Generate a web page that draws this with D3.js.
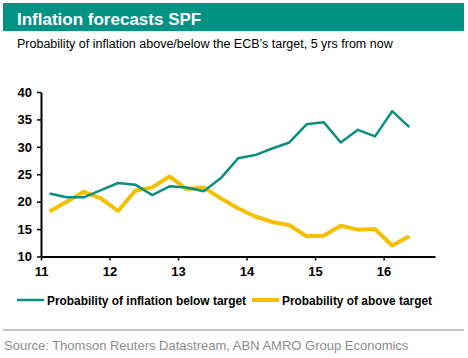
<!DOCTYPE html>
<html>
<head>
<meta charset="utf-8">
<script src="https://cdn.jsdelivr.net/npm/d3@7"></script>
<style>
  body { margin: 0; background: #fff; }
  svg { display: block; font-family: "Liberation Sans", Arial, sans-serif; }
</style>
</head>
<body>
<svg id="chart"></svg>
<script>
// quarterly SPF rounds, 2011Q1 .. 2016Q2
const quarters = d3.range(22).map((i) => 2011 + i / 4 + 0.125);
const belowTarget = [21.5, 20.8, 20.8, 22.1, 23.4, 23.1, 21.2, 22.8, 22.6, 21.9, 24.3, 27.9,
  28.5, 29.7, 30.8, 34.1, 34.5, 30.8, 33.1, 31.9, 36.5, 33.6];
const aboveTarget = [18.2, 20.0, 21.8, 20.6, 18.3, 22.0, 22.6, 24.6, 22.3, 22.6, 20.6, 18.8,
  17.3, 16.3, 15.7, 13.7, 13.8, 15.6, 14.9, 15.0, 12.0, 13.7];
const xTicks = [2011, 2012, 2013, 2014, 2015, 2016];
const yTicks = [10, 15, 20, 25, 30, 35, 40];

const W = 468, H = 358;
const green = "#0c8f80", yellow = "#f5c000";

const svg = d3.select("#chart").attr("width", W).attr("height", H);

// header band
svg.append("rect").attr("x", 3).attr("y", 3).attr("width", 461).attr("height", 28).attr("fill", "#009384");
svg.append("text").attr("x", 17).attr("y", 24.5).attr("fill", "#fff")
  .attr("font-size", 17).attr("font-weight", "bold").text("Inflation forecasts SPF");
svg.append("text").attr("x", 17).attr("y", 48).attr("fill", "#000")
  .attr("font-size", 12.5).text("Probability of inflation above/below the ECB\u2019s target, 5 yrs from now");

const x = d3.scaleLinear().domain([2011, 2016.75]).range([41, 435]);
const y = d3.scaleLinear().domain([10, 40]).range([256.5, 92]);

const xAxis = d3.axisBottom(x).tickValues(xTicks).tickFormat((d) => d % 100).tickSize(4).tickSizeOuter(0);
const yAxis = d3.axisLeft(y).tickValues(yTicks).tickSize(4).tickSizeOuter(0);

const gx = svg.append("g").attr("transform", `translate(0,${y(10)})`).call(xAxis);
const gy = svg.append("g").attr("transform", `translate(${x(2011)},0)`).call(yAxis);

[gx, gy].forEach((g) => {
  g.select(".domain").attr("stroke", "#000").attr("stroke-width", 2);
  g.selectAll(".tick line").attr("stroke", "#000").attr("stroke-width", 1.5);
  g.selectAll(".tick text").attr("fill", "#000").attr("font-size", 13).attr("font-weight", "bold")
    .attr("font-family", "Liberation Sans, Arial, sans-serif");
});
gx.selectAll(".tick text").attr("dy", "0.95em").attr("y", 7);
gy.selectAll(".tick text").attr("x", -9);

const line = (vals) => d3.line().x((d, i) => x(quarters[i])).y((d) => y(d))(vals);

svg.append("path").attr("d", line(aboveTarget)).attr("fill", "none")
  .attr("stroke", yellow).attr("stroke-width", 4).attr("stroke-linejoin", "round");
svg.append("path").attr("d", line(belowTarget)).attr("fill", "none")
  .attr("stroke", green).attr("stroke-width", 2.5).attr("stroke-linejoin", "round");

// legend
const legend = [
  { label: "Probability of inflation below target", color: green, w: 2.5, x: 17, len: 199 },
  { label: "Probability of above target", color: yellow, w: 4, x: 252, len: 150 },
];
legend.forEach((l) => {
  svg.append("line").attr("x1", l.x).attr("x2", l.x + 27).attr("y1", 300).attr("y2", 300)
    .attr("stroke", l.color).attr("stroke-width", l.w);
  svg.append("text").attr("x", l.x + 30).attr("y", 304.5).attr("font-size", 12.5)
    .attr("font-weight", "bold").attr("fill", "#000")
    .attr("textLength", l.len).attr("lengthAdjust", "spacingAndGlyphs").text(l.label);
});

svg.append("line").attr("x1", 3).attr("x2", 464).attr("y1", 330).attr("y2", 330)
  .attr("stroke", "#b0b0b0").attr("stroke-width", 1.5);
svg.append("text").attr("x", 4).attr("y", 350).attr("font-size", 13).attr("fill", "#8c8c8c")
  .text("Source: Thomson Reuters Datastream, ABN AMRO Group Economics");
</script>
</body>
</html>
